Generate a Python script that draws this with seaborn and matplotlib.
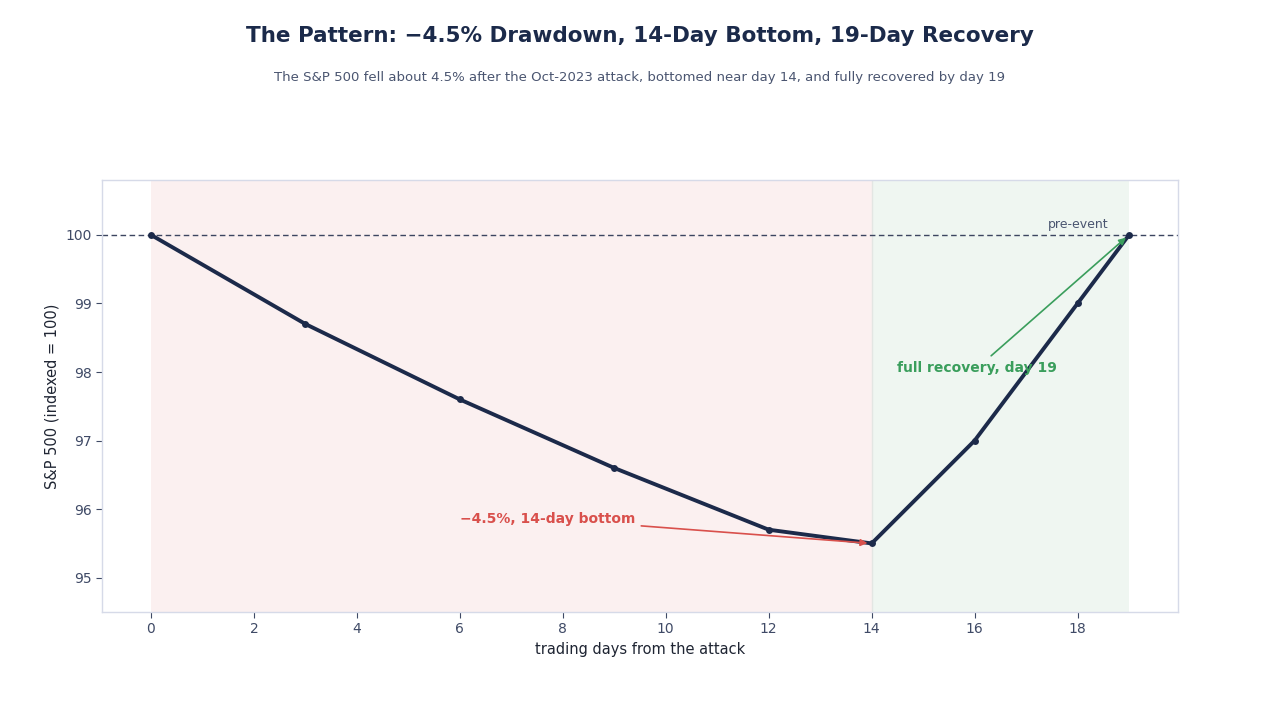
import matplotlib
matplotlib.use("Agg")
import matplotlib.pyplot as plt
import seaborn as sns
import pandas as pd

days = [0, 3, 6, 9, 12, 14, 16, 18, 19]
index_values = [100.0, 98.7, 97.6, 96.6, 95.7, 95.5, 97.0, 99.0, 100.0]
x_ticks = [0, 2, 4, 6, 8, 10, 12, 14, 16, 18]
y_ticks = [95, 96, 97, 98, 99, 100]

sns.set_theme(style="white")
plt.rcParams['font.family'] = ['DejaVu Sans']

navy = "#1c2a4a"
tick_col = "#3f4a66"
spine_col = "#d6dae8"

df = pd.DataFrame({"day": days, "value": index_values})

fig = plt.figure(figsize=(12.8, 7.2), dpi=100)
ax = fig.add_axes([0.0797, 0.15, 0.8406, 0.60])

ax.axvspan(0, 14, color="#fbf0f0", zorder=0, lw=0)
ax.axvspan(14, 19, color="#eff6f1", zorder=0, lw=0)
ax.axvline(14, color="#e3e6e3", lw=1, zorder=0.5)
ax.axhline(100, color="#3c4560", lw=1, ls=(0, (4, 2.5)), zorder=1)

sns.lineplot(data=df, x="day", y="value", ax=ax, color=navy, lw=2.8,
             marker="o", markersize=5, markeredgewidth=0, zorder=3)

ax.set_xlim(-0.95, 19.95)
ax.set_ylim(94.5, 100.8)
ax.set_xticks(x_ticks)
ax.set_yticks(y_ticks)
ax.tick_params(axis="both", colors=tick_col, labelsize=10, length=4, width=0.8,
               left=True, bottom=True)
for s in ax.spines.values():
    s.set_color(spine_col)
    s.set_linewidth(1)

ax.set_xlabel("trading days from the attack", fontsize=10.5, color="#1f2533")
ax.set_ylabel("S&P 500 (indexed = 100)", fontsize=10.5, color="#1f2533")

ax.text(18.6, 100.06, "pre-event", ha="right", va="bottom", fontsize=9, color="#4a5570")

ax.annotate("\u22124.5%, 14-day bottom", xy=(14, 95.5), xytext=(6, 95.86),
            ha="left", va="center", fontsize=10, fontweight="bold", color="#d9504c",
            arrowprops=dict(arrowstyle="-|>", color="#d9504c", lw=1.2,
                            shrinkA=2, shrinkB=3), zorder=4)
ax.annotate("full recovery, day 19", xy=(19, 100), xytext=(14.5, 98.06),
            ha="left", va="center", fontsize=10, fontweight="bold", color="#3a9e5c",
            arrowprops=dict(arrowstyle="-|>", color="#3a9e5c", lw=1.2,
                            shrinkA=2, shrinkB=3), zorder=4)

fig.text(0.5, 0.95, "The Pattern: \u22124.5% Drawdown, 14-Day Bottom, 19-Day Recovery",
         ha="center", va="center", fontsize=15.5, fontweight="bold", color="#1b2a4a")
fig.text(0.5, 0.893, "The S&P 500 fell about 4.5% after the Oct-2023 attack, bottomed near day 14, and fully recovered by day 19",
         ha="center", va="center", fontsize=9.5, color="#4a5570")

fig.savefig("out.png", dpi=100)
